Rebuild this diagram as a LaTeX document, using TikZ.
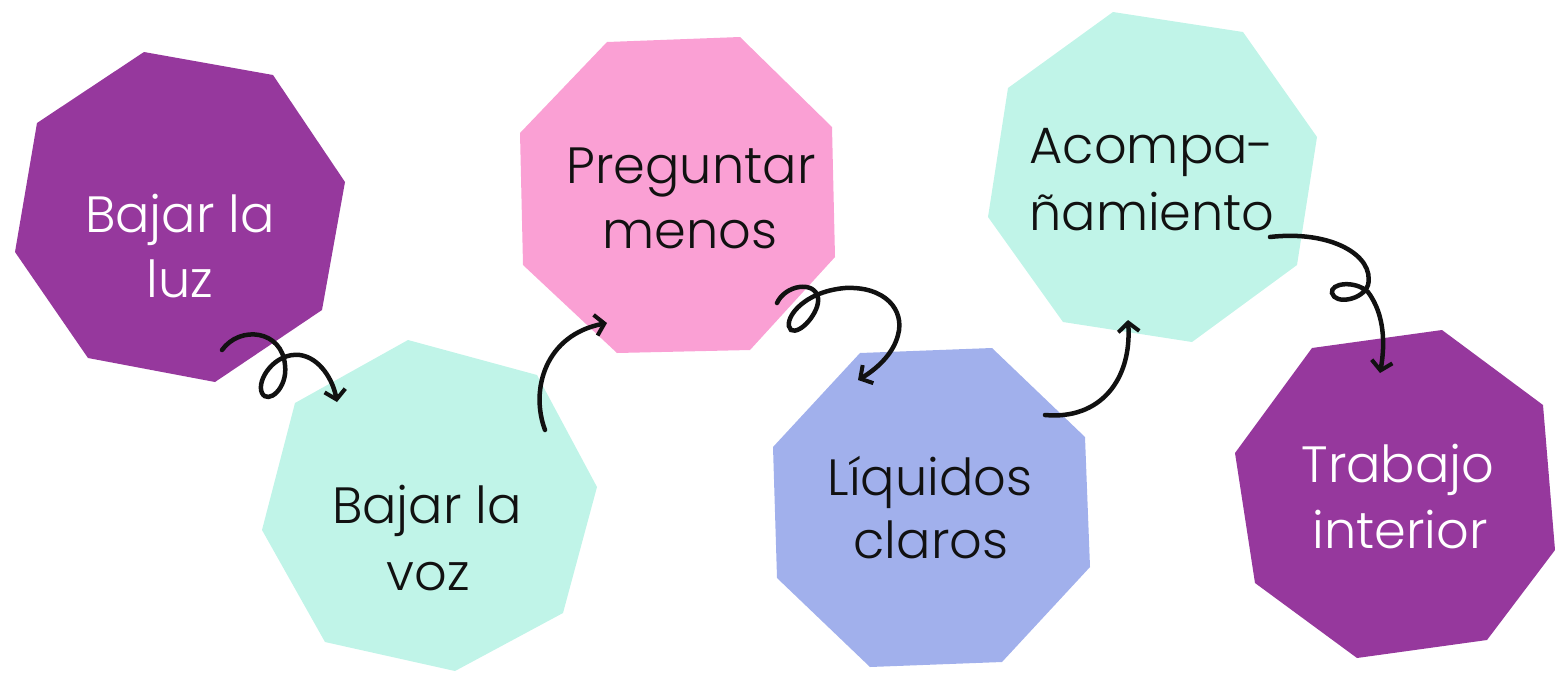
\documentclass[tikz,border=0pt]{standalone}
\usepackage{fontspec}
\setmainfont{Poppins}[UprightFont={* Light}]
\usetikzlibrary{arrows.meta}
\definecolor{purp}{HTML}{96389D}
\definecolor{mint}{HTML}{C0F4E8}
\definecolor{pinkc}{HTML}{FAA0D4}
\definecolor{bluec}{HTML}{A1B0EC}
\definecolor{ink}{HTML}{111111}
\tikzset{
  lbl/.style={anchor=base, inner sep=0pt, font=\fontsize{51}{61}\selectfont},
  lblw/.style={lbl, text=white},
  lblk/.style={lbl, text=ink},
  curl/.style={line width=4.5pt, draw=ink, line cap=round,
    -{Straight Barb[length=9pt,width=21pt,line width=4pt]}}
}
\begin{document}
\begin{tikzpicture}[x=1pt,y=-1pt]
\useasboundingbox (0,0) rectangle (1555,673);
% shapes
\fill[purp] (144,52) -- (273,75) -- (345,182) -- (322,310) -- (215,382) -- (88,358) -- (15,252) -- (37,123) -- cycle;
\fill[mint] (408,340) -- (537,375) -- (597,487) -- (563,613) -- (455,671) -- (325,642) -- (262,530) -- (295,403) -- cycle;
\fill[pinkc] (607,42) -- (740,37) -- (832,127) -- (835,257) -- (750,350) -- (617,353) -- (523,265) -- (520,133) -- cycle;
\fill[bluec] (860,353) -- (992,348) -- (1085,437) -- (1090,567) -- (1002,662) -- (870,667) -- (777,578) -- (773,447) -- cycle;
\fill[mint] (1113,12) -- (1243,32) -- (1317,137) -- (1297,265) -- (1192,342) -- (1063,322) -- (988,217) -- (1008,88) -- cycle;
\fill[purp] (1312,348) -- (1442,330) -- (1543,405) -- (1555,550) -- (1487,640) -- (1357,658) -- (1255,583) -- (1235,453) -- cycle;
% labels
\node[lblw] (t1a) at (180,232) {Bajar la};
\node[lblw] (t1b) at (180,297) {luz};
\node[lblk] (t2a) at (427,523) {Bajar la};
\node[lblk] (t2b) at (428,590) {voz};
\node[lblk] (t3a) at (691,183) {Preguntar};
\node[lblk] (t3b) at (690,248) {menos};
\node[lblk] (t4a) at (930,495) {Líquidos};
\node[lblk] (t4b) at (931,558) {claros};
\node[lblk] (t5a) at (1152,163) {Acompa-};
\node[lblk] (t5b) at (1152,230) {ñamiento};
\node[lblw] (t6a) at (1398,482) {Trabajo};
\node[lblw] (t6b) at (1400,548) {interior};
% arrow end points
\coordinate (a1s) at (222,350); \coordinate (a1e) at (337,402);
\coordinate (a2s) at (545,430); \coordinate (a2e) at (607,323);
\coordinate (a3s) at (777,303); \coordinate (a3e) at (858,380);
\coordinate (a4s) at (1045,415); \coordinate (a4e) at (1128,320);
\coordinate (a5s) at (1270,237); \coordinate (a5e) at (1380,373);
% arrows
\draw[curl] (a1s) .. controls (240,325) and (282,330) .. (285,365)
  .. controls (288,388) and (268,405) .. (262,393)
  .. controls (256,380) and (275,352) .. (300,355)
  .. controls (320,358) and (333,380) .. (a1e);
\draw[curl] (a2s) .. controls (530,390) and (545,335) .. (a2e);
\draw[curl] (a3s) .. controls (785,285) and (815,280) .. (818,298)
  .. controls (820,312) and (800,335) .. (791,330)
  .. controls (782,322) and (800,292) .. (845,288)
  .. controls (885,286) and (905,310) .. (898,335)
  .. controls (893,355) and (875,370) .. (a3e);
\draw[curl] (a4s) .. controls (1100,420) and (1132,380) .. (a4e);
\draw[curl] (a5s) .. controls (1330,230) and (1375,255) .. (1368,285)
  .. controls (1363,300) and (1335,305) .. (1332,293)
  .. controls (1330,283) and (1355,280) .. (1368,292)
  .. controls (1385,315) and (1385,345) .. (a5e);
\end{tikzpicture}
\end{document}
